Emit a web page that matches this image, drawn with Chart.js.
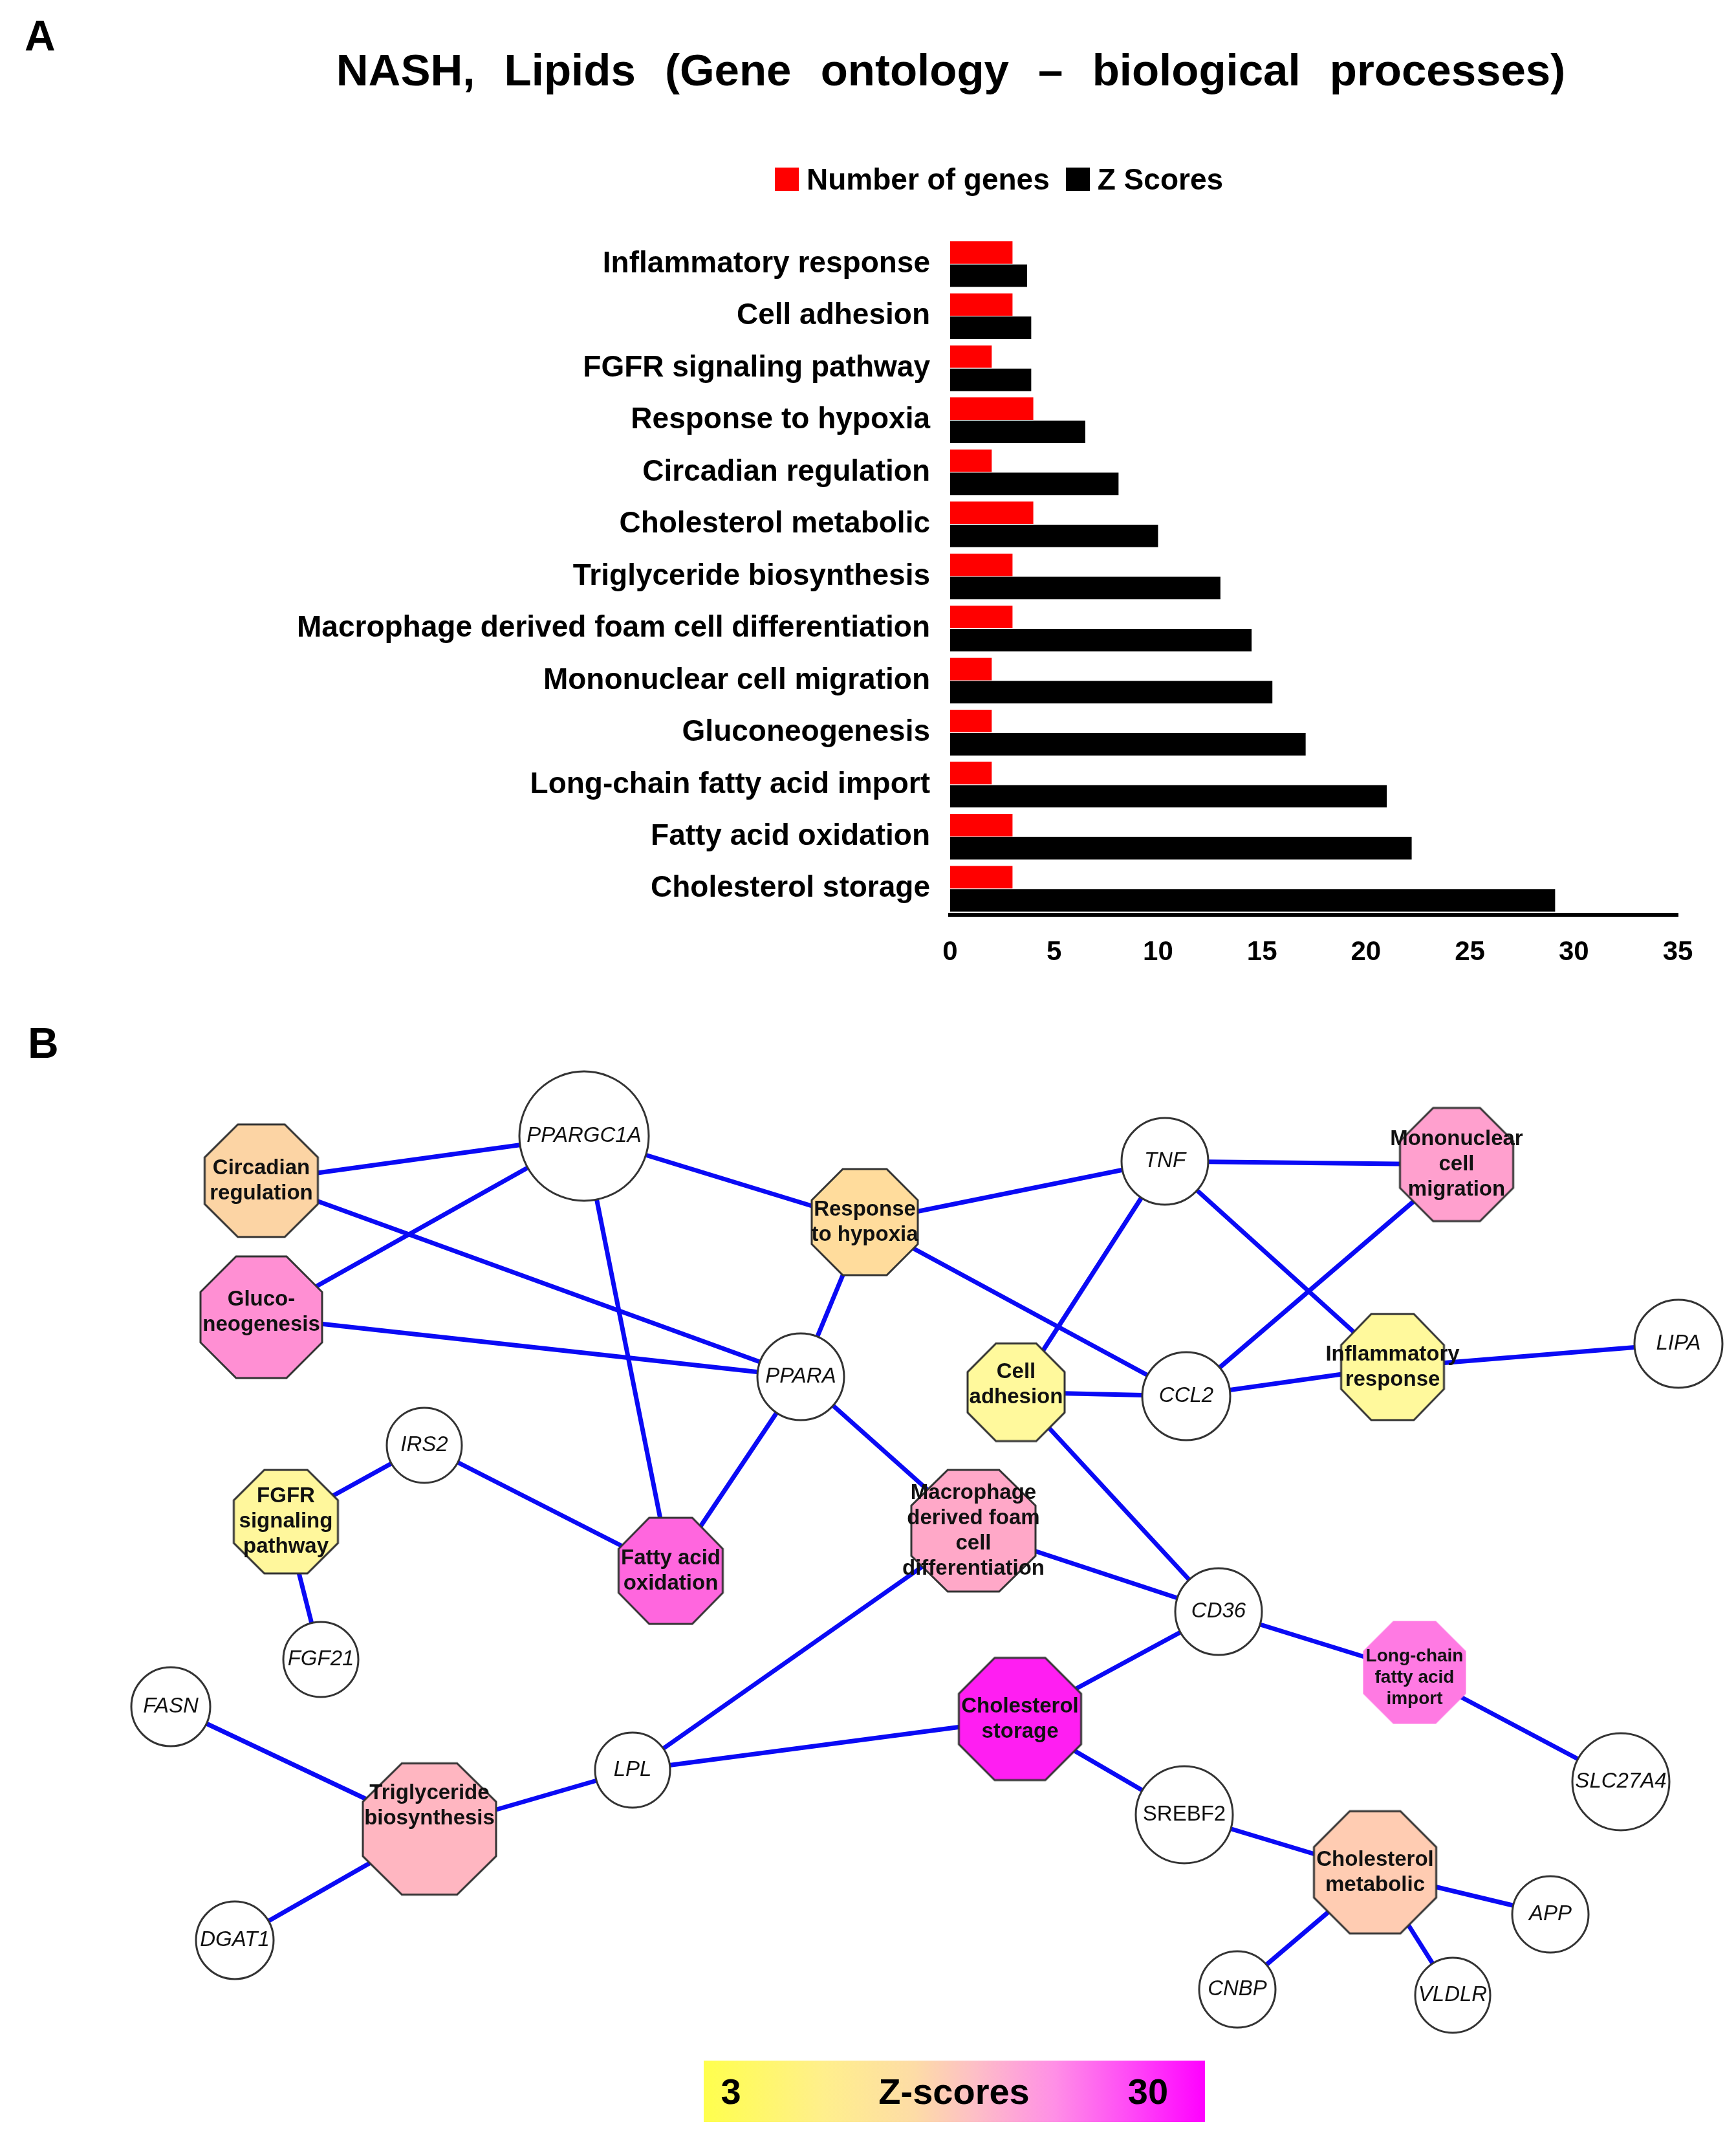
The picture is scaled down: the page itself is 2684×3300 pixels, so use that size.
<!DOCTYPE html>
<html lang="en">
<head>
<meta charset="utf-8">
<title>NASH, Lipids (Gene ontology – biological processes)</title>
<script src="https://cdn.jsdelivr.net/npm/chart.js@4.4.1/dist/chart.umd.min.js"></script>
<style>
  html, body { margin: 0; padding: 0; background: #fff; }
  body {
    position: relative; width: 2684px; height: 3300px; overflow: hidden;
    font-family: "Liberation Sans", Arial, sans-serif; color: #000;
  }
  #barChart { position: absolute; left: 0; top: 0; }
  #netChart { position: absolute; left: 0; top: 1540px; }
  .tag { position: absolute; font-size: 66px; font-weight: bold; line-height: 66px; }
  #title {
    position: absolute; left: 0; top: 74px; width: 2940px; text-align: center;
    font-size: 69px; font-weight: bold; line-height: 69px; word-spacing: 26px; white-space: nowrap;
  }
  #barChart-legend {
    position: absolute; left: 1198px; top: 254px; display: flex; align-items: center;
    font-size: 46px; font-weight: bold; line-height: 46px; white-space: nowrap;
  }
  #barChart-legend .item { display: flex; align-items: center; margin-right: 25px; }
  #barChart-legend .box { width: 37px; height: 36px; margin-right: 12px; }
  #zbar {
    position: absolute; left: 1088px; top: 3185px; width: 775px; height: 95px;
    background: linear-gradient(to right, #ffff4d 0%, #ffef8c 24%, #fddca6 42%, #fdbfc6 54%, #ff8fe6 70%, #ff45f7 86%, #ff00ff 100%);
    font-size: 56px; font-weight: bold; line-height: 56px;
  }
  #zbar span { position: absolute; top: 20px; transform: translateX(-50%); white-space: nowrap; }
</style>
</head>
<body>
<canvas id="barChart" width="2684" height="1540"></canvas>
<canvas id="netChart" width="2684" height="1760"></canvas>
<div class="tag" style="left:38px;top:22px;">A</div>
<div class="tag" style="left:43px;top:1579px;">B</div>
<div id="title">NASH, Lipids (Gene ontology – biological processes)</div>
<div id="barChart-legend"></div>
<div id="zbar"><span style="left:42px;">3</span><span style="left:387px;">Z-scores</span><span style="left:687px;">30</span></div>

<script>
// Panel A: GO biological processes, gene counts and Z scores
var categories = [
  "Inflammatory response",
  "Cell adhesion",
  "FGFR signaling pathway",
  "Response to hypoxia",
  "Circadian regulation",
  "Cholesterol metabolic",
  "Triglyceride biosynthesis",
  "Macrophage derived foam cell differentiation",
  "Mononuclear cell migration",
  "Gluconeogenesis",
  "Long-chain fatty acid import",
  "Fatty acid oxidation",
  "Cholesterol storage"
];
var geneCounts = [3, 3, 2, 4, 2, 4, 3, 3, 2, 2, 2, 3, 3];
var zScores = [3.7, 3.9, 3.9, 6.5, 8.1, 10.0, 13.0, 14.5, 15.5, 17.1, 21.0, 22.2, 29.1];
var xTicks = [0, 5, 10, 15, 20, 25, 30, 35];

// Panel B: network layout (page coordinates of the node centres)
var termNames = [
  "Circadian regulation", "Gluconeogenesis", "Response to hypoxia",
  "Mononuclear cell migration", "Cell adhesion", "Inflammatory response",
  "FGFR signaling pathway", "Fatty acid oxidation",
  "Macrophage derived foam cell differentiation", "Long-chain fatty acid import",
  "Cholesterol storage", "Triglyceride biosynthesis", "Cholesterol metabolic"
];
var termText = [
  "Circadian\nregulation", "Gluco-\nneogenesis", "Response\nto hypoxia",
  "Mononuclear\ncell\nmigration", "Cell\nadhesion", "Inflammatory\nresponse",
  "FGFR\nsignaling\npathway", "Fatty acid\noxidation",
  "Macrophage\nderived foam\ncell\ndifferentiation", "Long-chain\nfatty acid\nimport",
  "Cholesterol\nstorage", "Triglyceride\nbiosynthesis", "Cholesterol\nmetabolic"
];
var termX = [404, 404, 1337, 2252, 1571, 2153, 442, 1037, 1505, 2187, 1577, 664, 2126];
var termY = [1825, 2036, 1889, 1800, 2152, 2113, 2352, 2428, 2366, 2585, 2657, 2827, 2894];

var geneNames = [
  "PPARGC1A", "TNF", "PPARA", "CCL2", "LIPA", "IRS2", "FGF21", "FASN",
  "LPL", "CD36", "SLC27A4", "SREBF2", "DGAT1", "APP", "CNBP", "VLDLR"
];
var geneX = [903, 1801, 1238, 1834, 2595, 656, 496, 264, 978, 1884, 2506, 1831, 363, 2397, 1913, 2246];
var geneY = [1756, 1795, 2128, 2158, 2077, 2234, 2565, 2638, 2736, 2491, 2754, 2805, 2999, 2959, 3075, 3084];

var edges = [
  ["Circadian regulation", "PPARGC1A"],
  ["Circadian regulation", "PPARA"],
  ["Gluconeogenesis", "PPARGC1A"],
  ["Gluconeogenesis", "PPARA"],
  ["PPARGC1A", "Response to hypoxia"],
  ["PPARGC1A", "Fatty acid oxidation"],
  ["Response to hypoxia", "TNF"],
  ["Response to hypoxia", "PPARA"],
  ["Response to hypoxia", "CCL2"],
  ["TNF", "Mononuclear cell migration"],
  ["TNF", "Cell adhesion"],
  ["TNF", "Inflammatory response"],
  ["CCL2", "Mononuclear cell migration"],
  ["Cell adhesion", "CCL2"],
  ["CCL2", "Inflammatory response"],
  ["Inflammatory response", "LIPA"],
  ["Cell adhesion", "CD36"],
  ["PPARA", "Fatty acid oxidation"],
  ["PPARA", "Macrophage derived foam cell differentiation"],
  ["IRS2", "FGFR signaling pathway"],
  ["IRS2", "Fatty acid oxidation"],
  ["FGFR signaling pathway", "FGF21"],
  ["Macrophage derived foam cell differentiation", "CD36"],
  ["Macrophage derived foam cell differentiation", "LPL"],
  ["CD36", "Cholesterol storage"],
  ["CD36", "Long-chain fatty acid import"],
  ["Long-chain fatty acid import", "SLC27A4"],
  ["Cholesterol storage", "LPL"],
  ["Cholesterol storage", "SREBF2"],
  ["SREBF2", "Cholesterol metabolic"],
  ["Cholesterol metabolic", "APP"],
  ["Cholesterol metabolic", "CNBP"],
  ["Cholesterol metabolic", "VLDLR"],
  ["FASN", "Triglyceride biosynthesis"],
  ["DGAT1", "Triglyceride biosynthesis"],
  ["Triglyceride biosynthesis", "LPL"]
];

(function () {
  "use strict";

  var FONT = '"Liberation Sans", Arial, sans-serif';

  function byId(id) {
    return document.getElementById(id);
  }

  // Octagon size/colour per GO term (colour follows the Z-score bar at the bottom).
  var termStyle = {
    "Circadian regulation": { w: 175, h: 174, fill: "#fcd4a4" },
    "Gluconeogenesis": { w: 188, h: 188, fill: "#ff8fd3", dy: -8 },
    "Response to hypoxia": { w: 164, h: 164, fill: "#ffdc9c" },
    "Mononuclear cell migration": { w: 175, h: 175, fill: "#ffa0ce" },
    "Cell adhesion": { w: 150, h: 151, fill: "#fff99c", dy: -12 },
    "Inflammatory response": { w: 159, h: 164, fill: "#fff99c" },
    "FGFR signaling pathway": { w: 161, h: 160, fill: "#fff79c" },
    "Fatty acid oxidation": { w: 161, h: 164, fill: "#ff66de" },
    "Macrophage derived foam cell differentiation": { w: 192, h: 188, fill: "#ffa8c8" },
    "Long-chain fatty acid import": { w: 159, h: 159, fill: "#ff7ae3", noBorder: true, small: true, dy: 8 },
    "Cholesterol storage": { w: 189, h: 189, fill: "#ff1ef2" },
    "Triglyceride biosynthesis": { w: 206, h: 203, fill: "#ffb6c1", dy: -36 },
    "Cholesterol metabolic": { w: 189, h: 189, fill: "#ffccb2" }
  };
  var geneRadius = {
    PPARGC1A: 100, TNF: 67, PPARA: 67, CCL2: 68, LIPA: 68, IRS2: 58, FGF21: 58, FASN: 61,
    LPL: 58, CD36: 67, SLC27A4: 75, SREBF2: 75, DGAT1: 60, APP: 59, CNBP: 59, VLDLR: 58
  };
  var uprightGenes = ["SREBF2"];

  // Legend drawn into a div, built from the chart's own legend items.
  var htmlLegendPlugin = {
    id: "htmlLegend",
    afterUpdate: function (chart, args, options) {
      var box = byId(options.containerID);
      if (!box) return;
      box.innerHTML = "";
      chart.options.plugins.legend.labels.generateLabels(chart).forEach(function (item) {
        var li = document.createElement("div");
        li.className = "item";
        var sw = document.createElement("span");
        sw.className = "box";
        sw.style.background = item.fillStyle;
        var tx = document.createElement("span");
        tx.textContent = item.text;
        li.appendChild(sw);
        li.appendChild(tx);
        box.appendChild(li);
      });
    }
  };

  new Chart(byId("barChart"), {
    type: "bar",
    data: {
      labels: categories,
      datasets: [
        { label: "Number of genes", data: geneCounts, backgroundColor: "#ff0000",
          categoryPercentage: 0.89, barPercentage: 0.97 },
        { label: "Z Scores", data: zScores, backgroundColor: "#000000",
          categoryPercentage: 0.89, barPercentage: 0.97 }
      ]
    },
    options: {
      indexAxis: "y",
      responsive: false,
      animation: false,
      devicePixelRatio: 1,
      events: [],
      layout: { padding: { left: 0, right: 90, top: 368, bottom: 0 } },
      plugins: {
        legend: { display: false },
        tooltip: { enabled: false },
        htmlLegend: { containerID: "barChart-legend" }
      },
      scales: {
        x: {
          min: xTicks[0],
          max: xTicks[xTicks.length - 1],
          afterBuildTicks: function (s) {
            s.ticks = xTicks.map(function (v) { return { value: v }; });
          },
          ticks: { padding: 33, color: "#000", font: { family: FONT, size: 42, weight: "bold" } },
          grid: { display: false, drawTicks: false },
          border: { display: true, color: "#000", width: 6 },
          afterFit: function (s) { s.height = 126; }
        },
        y: {
          ticks: { autoSkip: false, padding: 31, color: "#000", font: { family: FONT, size: 46, weight: "bold" } },
          grid: { display: false, drawTicks: false },
          border: { display: false },
          afterFit: function (s) { s.width = 1469; }
        }
      }
    },
    plugins: [htmlLegendPlugin]
  });

  // ---- Panel B: network ----
  function octagon(st) {
    var pad = 4;
    var c = document.createElement("canvas");
    c.width = st.w + pad * 2;
    c.height = st.h + pad * 2;
    var ctx = c.getContext("2d");
    var cx = c.width / 2, cy = c.height / 2, a = st.w / 2, b = st.h / 2, k = Math.SQRT2 - 1;
    ctx.beginPath();
    ctx.moveTo(cx - a * k, cy - b);
    ctx.lineTo(cx + a * k, cy - b);
    ctx.lineTo(cx + a, cy - b * k);
    ctx.lineTo(cx + a, cy + b * k);
    ctx.lineTo(cx + a * k, cy + b);
    ctx.lineTo(cx - a * k, cy + b);
    ctx.lineTo(cx - a, cy + b * k);
    ctx.lineTo(cx - a, cy - b * k);
    ctx.closePath();
    ctx.fillStyle = st.fill;
    ctx.fill();
    if (!st.noBorder) {
      ctx.lineWidth = 3;
      ctx.strokeStyle = "#333";
      ctx.stroke();
    }
    return c;
  }

  var pos = {};
  termNames.forEach(function (n, i) { pos[n] = { x: termX[i], y: termY[i] }; });
  geneNames.forEach(function (n, i) { pos[n] = { x: geneX[i], y: geneY[i] }; });

  var edgeSets = edges.map(function (e) {
    return {
      data: [pos[e[0]], pos[e[1]]],
      showLine: true,
      borderColor: "#0a0af5",
      borderWidth: 7,
      pointRadius: 0,
      order: 5,
      clip: false
    };
  });

  var termSet = {
    data: termNames.map(function (n) { return pos[n]; }),
    pointStyle: termNames.map(function (n) { return octagon(termStyle[n]); }),
    pointRadius: 10,
    order: 1,
    clip: false,
    nodeText: termText,
    nodeFont: termNames.map(function (n) {
      return termStyle[n].small ? "bold 28px " + FONT : "bold 33px " + FONT;
    }),
    nodeLine: termNames.map(function (n) { return termStyle[n].small ? 33 : 39; }),
    nodeDy: termNames.map(function (n) { return termStyle[n].dy || 0; })
  };

  var geneSet = {
    data: geneNames.map(function (n) { return pos[n]; }),
    pointStyle: "circle",
    pointRadius: geneNames.map(function (n) { return geneRadius[n]; }),
    backgroundColor: "#ffffff",
    borderColor: "#333333",
    borderWidth: 3,
    order: 0,
    clip: false,
    nodeText: geneNames,
    nodeFont: geneNames.map(function (n) {
      return (uprightGenes.indexOf(n) >= 0 ? "" : "italic ") + "33px " + FONT;
    }),
    nodeLine: geneNames.map(function () { return 38; }),
    nodeDy: geneNames.map(function () { return 0; })
  };

  // Writes the node names on top of the drawn points.
  var nodeLabels = {
    id: "nodeLabels",
    afterDatasetsDraw: function (chart) {
      var ctx = chart.ctx;
      ctx.save();
      ctx.fillStyle = "#111";
      ctx.textAlign = "center";
      ctx.textBaseline = "middle";
      chart.data.datasets.forEach(function (ds, di) {
        if (!ds.nodeText) return;
        chart.getDatasetMeta(di).data.forEach(function (pt, i) {
          var lines = ds.nodeText[i].split("\n");
          var lh = ds.nodeLine[i];
          var y0 = pt.y + ds.nodeDy[i] - (lines.length - 1) * lh / 2;
          ctx.font = ds.nodeFont[i];
          lines.forEach(function (ln, j) {
            ctx.fillText(ln, pt.x, y0 + j * lh);
          });
        });
      });
      ctx.restore();
    }
  };

  new Chart(byId("netChart"), {
    type: "scatter",
    data: { datasets: edgeSets.concat([termSet, geneSet]) },
    options: {
      responsive: false,
      animation: false,
      devicePixelRatio: 1,
      events: [],
      layout: { padding: 0, autoPadding: false },
      plugins: { legend: { display: false }, tooltip: { enabled: false } },
      scales: {
        x: { type: "linear", min: 0, max: 2684, display: false },
        y: { type: "linear", min: 1540, max: 3300, reverse: true, display: false }
      }
    },
    plugins: [nodeLabels]
  });
})();
</script>
</body>
</html>
